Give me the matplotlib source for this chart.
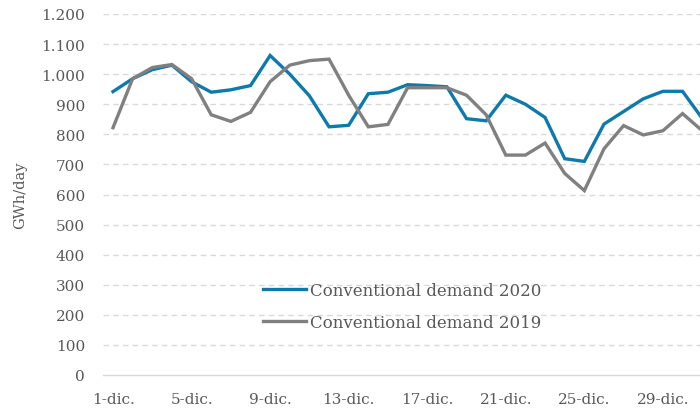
import matplotlib
matplotlib.use("Agg")
import matplotlib.pyplot as plt
from matplotlib.ticker import FuncFormatter

days = list(range(1, 32))
demand_2020 = [942, 985, 1015, 1030, 975, 940, 948, 962, 1062, 1000, 928, 825, 830, 935, 940,
               965, 962, 958, 852, 845, 930, 900, 856, 719, 710, 834, 876, 918, 943, 943, 853]
demand_2019 = [822, 985, 1022, 1032, 985, 865, 843, 873, 975, 1030, 1045, 1050, 930, 825, 833,
               955, 955, 955, 930, 865, 731, 731, 771, 670, 613, 752, 829, 798, 812, 869, 812]
tick_days = [1, 5, 9, 13, 17, 21, 25, 29]
tick_labels = ["1-dic.", "5-dic.", "9-dic.", "13-dic.", "17-dic.", "21-dic.", "25-dic.", "29-dic."]
y_ticks = list(range(0, 1201, 100))

plt.rcParams['font.family'] = ['DejaVu Serif']
txt = '#595959'

fig = plt.figure(figsize=(7, 4.1), dpi=100)
W, H = 700, 410
left, right, top, bottom = 103.2, 712.0, 15.0, 376.0
ax = fig.add_axes([left / W, 1 - bottom / H, (right - left) / W, (bottom - top) / H])

ax.plot(days, demand_2020, color='#0E7AAB', lw=2.4, label='Conventional demand 2020', solid_joinstyle='miter')
ax.plot(days, demand_2019, color='#808080', lw=2.4, label='Conventional demand 2019', solid_joinstyle='miter')

ax.set_xlim(0.5, 31.5)
ax.set_ylim(0, 1200)
ax.set_yticks(y_ticks)
ax.yaxis.set_major_formatter(FuncFormatter(lambda v, p: f"{int(v):,}".replace(",", ".")))
ax.set_xticks(tick_days)
ax.set_xticklabels(tick_labels)

for v in y_ticks[1:]:
    ax.axhline(v, color='#d9d9d9', lw=1.0, ls=(0, (4, 3)), zorder=0)
for s in ['top', 'right', 'left']:
    ax.spines[s].set_visible(False)
ax.spines['bottom'].set_color('#d9d9d9')
ax.spines['bottom'].set_linewidth(1.0)
ax.tick_params(axis='both', length=0, colors=txt, labelsize=11)
ax.tick_params(axis='y', pad=13)
ax.tick_params(axis='x', pad=12)

ax.set_ylabel('GWh/day', color=txt, fontsize=10.5, labelpad=10)

leg = ax.legend(loc='upper left', bbox_to_anchor=((263 - left) / (right - left), (bottom - 283) / (bottom - top)),
                frameon=False, fontsize=12, handlelength=2.6, handletextpad=0.25, labelspacing=0.9,
                borderaxespad=0, borderpad=0)
for t in leg.get_texts():
    t.set_color(txt)

fig.savefig('out.png', dpi=100)
